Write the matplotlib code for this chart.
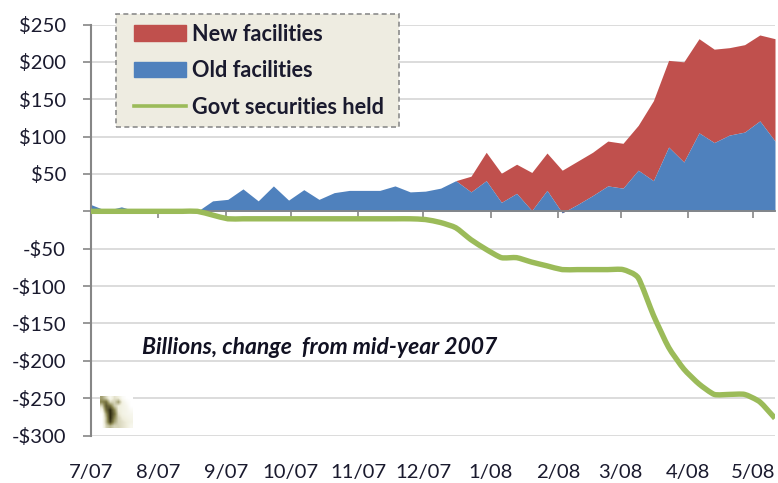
import matplotlib
matplotlib.use("Agg")
import matplotlib.pyplot as plt
import matplotlib.dates as mdates
from matplotlib.colors import LinearSegmentedColormap
from matplotlib.lines import Line2D
from matplotlib.patches import Patch, PathPatch, Rectangle
from matplotlib.path import Path
import numpy as np
import pandas as pd

plt.rcParams['font.family'] = ['Lato', 'DejaVu Sans']

# weekly changes since mid-2007, billions of dollars
old_facilities = [9, 1, 6, 0, 0, 0, 0, 0, 14, 16, 30, 14, 34, 15, 29, 16, 25, 28, 28, 28, 34, 26,
                  27, 31, 41, 26, 41, 12, 24, 1, 28, -2, 9, 21, 34, 31, 55, 41, 86, 66, 105, 92,
                  102, 106, 121, 94]
new_facilities = [0, 0, 0, 0, 0, 0, 0, 0, 0, 0, 0, 0, 0, 0, 0, 0, 0, 0, 0, 0, 0, 0,
                  0, 0, 0, 21, 38, 39, 39, 51, 50, 57, 58, 58, 60, 60, 60, 107, 116, 134, 126, 125,
                  117, 117, 115, 137]
govt_securities = [0, 0, 0, 0, 0, 0, 0, 0, -5, -10, -10, -10, -10, -10, -10, -10, -10, -10, -10, -10, -10, -10,
                   -11, -15, -22, -38, -51, -62, -62, -68, -73, -78, -78, -78, -78, -78, -89, -139, -182, -211, -231, -245,
                   -245, -245, -255, -277]
month_ticks = ['2007-07-04', '2007-08-04', '2007-09-04', '2007-10-04', '2007-11-04', '2007-12-04',
               '2008-01-04', '2008-02-04', '2008-03-04', '2008-04-04', '2008-05-04']
month_labels = ['7/07', '8/07', '9/07', '10/07', '11/07', '12/07', '1/08', '2/08', '3/08', '4/08', '5/08']
y_ticks = [-300, -250, -200, -150, -100, -50, 0, 50, 100, 150, 200, 250]
y_labels = ['-$300', '-$250', '-$200', '-$150', '-$100', '-$50', '', '$50', '$100', '$150', '$200', '$250']

# shading of the eagle logo, 0 is white and 1 is darkest
logo_shade = [[.5, .3, .1, .25, .2, .05, 0, 0],
              [.6, .7, .3, .3, .5, .15, .05, 0],
              [.3, .8, .7, .35, .2, .15, .1, 0],
              [.1, .7, 1, .6, .2, .15, .12, .05],
              [0, .5, 1, .7, .25, .15, .12, .1],
              [0, .4, 1, .6, .3, .2, .15, .12],
              [0, .4, .9, .5, .3, .25, .2, .15],
              [0, .3, .4, .3, .3, .25, .2, .1]]

RED = '#C0504D'
BLUE = '#4F81BD'
GREEN = '#9BBB59'
AXIS_GRAY = '#868686'
TEXT = '#1A1A2E'

W, H = 778, 483
dates = pd.date_range('2007-07-04', periods=len(old_facilities), freq='7D')
old_arr = np.array(old_facilities, dtype=float)
total = old_arr + np.array(new_facilities, dtype=float)


def px(x, y):
    # pixel position (from top left) to figure fraction
    return x / W, 1 - y / H


def smooth_path(xs, ys, k=0.1):
    # catmull-rom style curve through every point, k keeps the overshoot small
    pts = np.column_stack([xs, ys])
    verts = [pts[0]]
    for i in range(len(pts) - 1):
        p0 = pts[max(i - 1, 0)]
        p3 = pts[min(i + 2, len(pts) - 1)]
        verts.append(pts[i] + (pts[i + 1] - p0) * k)
        verts.append(pts[i + 1] - (p3 - pts[i]) * k)
        verts.append(pts[i + 1])
    codes = [Path.MOVETO] + [Path.CURVE4] * (len(verts) - 1)
    return Path(verts, codes)


fig = plt.figure(figsize=(W / 100, H / 100), dpi=100)
ax = fig.add_axes([91 / W, (H - 435.5) / H, 684 / W, 411 / H])

ax.fill_between(dates, old_arr, total, color=RED, lw=0, zorder=2)
ax.fill_between(dates, 0, old_arr, color=BLUE, lw=0, zorder=2)
ax.add_patch(PathPatch(smooth_path(mdates.date2num(dates), govt_securities), facecolor='none', edgecolor=GREEN,
                       lw=3.9, capstyle='butt', joinstyle='round', zorder=4))

ax.set_xlim(dates[0], dates[-1])
ax.set_ylim(-300, 250)
ax.set_yticks(y_ticks)
ax.set_yticklabels(y_labels)
ax.set_xticks(pd.to_datetime(month_ticks))
ax.set_xticklabels(month_labels)
ax.grid(axis='y', color='#D9D9D9', lw=1.3, zorder=1)
ax.set_axisbelow(True)

for s in ['top', 'right']:
    ax.spines[s].set_visible(False)
ax.spines['left'].set_color(AXIS_GRAY)
ax.spines['left'].set_linewidth(1.5)
ax.spines['bottom'].set_position(('data', 0))
ax.spines['bottom'].set_color(AXIS_GRAY)
ax.spines['bottom'].set_linewidth(1.3)
ax.spines['bottom'].set_zorder(3)
ax.tick_params(axis='y', length=6, width=1.2, color=AXIS_GRAY, labelsize=14.6, labelcolor=TEXT, pad=12)
# month labels sit below the plot, the axis itself crosses at zero
ax.tick_params(axis='x', length=5, width=1.2, color=AXIS_GRAY, labelsize=14.6, labelcolor=TEXT, pad=177)

# legend box
fig.add_artist(Rectangle(px(116, 127), 283 / W, 113 / H, transform=fig.transFigure, facecolor='#EEECE1',
                         edgecolor='#8C8C8C', lw=1.2, ls=(0, (3, 2)), zorder=5))
handles = [Patch(color=RED), Patch(color=BLUE), Line2D([0], [0], color=GREEN, lw=2.6)]
leg = fig.legend(handles, ['New facilities', 'Old facilities', 'Govt securities held'],
                 loc='upper left', bbox_to_anchor=px(125, 15), frameon=False, handlelength=2.4,
                 handleheight=0.72, handletextpad=0.3, labelspacing=0.72, borderaxespad=0,
                 prop={'size': 15.6, 'weight': 'bold'}, labelcolor=TEXT)
leg.set_zorder(6)

ax.text(*px(142, 347), 'Billions, change  from mid-year 2007', transform=fig.transFigure, va='center', ha='left',
        fontsize=16.5, fontweight='bold', fontstyle='italic', color='#111122', zorder=6)

# small eagle logo in the corner
logo_cmap = LinearSegmentedColormap.from_list('logo', [(0, 'white'), (.2, '#EFEEDC'), (.6, '#8A8650'), (1, '#2E2A10')])
logo_ax = fig.add_axes([100 / W, (H - 428) / H, 33 / W, 32 / H], zorder=5)
logo_ax.imshow(logo_shade, cmap=logo_cmap, vmin=0, vmax=1, interpolation='bilinear', aspect='auto')
logo_ax.axis('off')

fig.savefig('out.png', dpi=100)
